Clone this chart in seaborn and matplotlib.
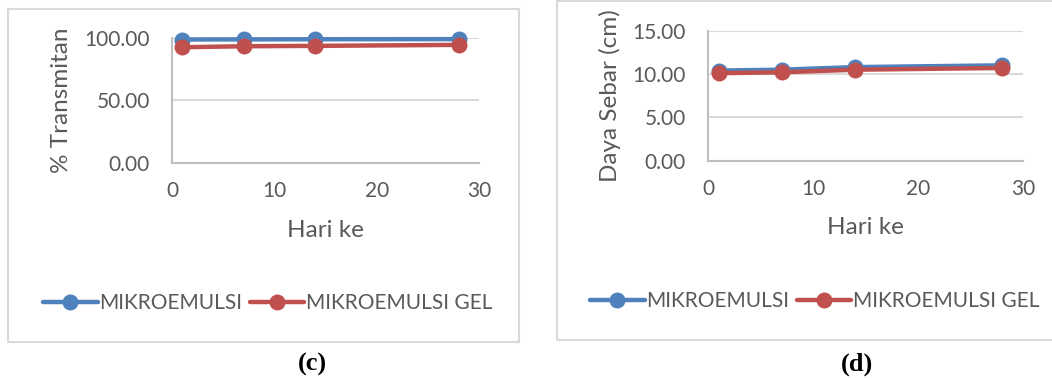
import matplotlib
matplotlib.use("Agg")
import matplotlib.pyplot as plt
import matplotlib.patches as mpatches
from matplotlib.lines import Line2D
from matplotlib.ticker import FormatStrFormatter
import pandas as pd
import seaborn as sns

# Observation days
hari = [1, 7, 14, 28]

# (c) % transmittance
transmitan_mikroemulsi = [98.8, 98.9, 99.0, 99.1]
transmitan_gel = [92.6, 93.4, 93.7, 94.5]

# (d) spreadability (cm)
sebar_mikroemulsi = [10.4, 10.5, 10.8, 11.0]
sebar_gel = [10.1, 10.2, 10.5, 10.7]

series_names = ["MIKROEMULSI", "MIKROEMULSI GEL"]
panel_labels = ["(c)", "(d)"]

BLUE = "#4F81BD"
RED = "#C0504D"
TEXT = "#595959"
GRID = "#D9D9D9"
AXIS = "#BFBFBF"

sns.set_theme(style="white")
plt.rcParams["font.family"] = ["Lato", "DejaVu Sans"]

W, H = 1052, 378
fig = plt.figure(figsize=(W / 100, H / 100), dpi=100)

MS = 11.5
LW = 3.2


def long_frame(a, b):
    return pd.DataFrame({
        "Hari": hari * 2,
        "Nilai": a + b,
        "Sampel": [series_names[0]] * len(hari) + [series_names[1]] * len(hari),
    })


def fx(px):
    return px / W


def fy(py):
    return 1 - py / H


def draw_panel(rect, data, ylabel, yticks, box, legend_xy, caption_xy, caption,
               label_x_px, xlabel_top_px):
    ax = fig.add_axes(rect)
    sns.lineplot(data=data, x="Hari", y="Nilai", hue="Sampel",
                 palette=[BLUE, RED], marker="o", markersize=MS,
                 markeredgewidth=0, linewidth=LW, legend=False, ax=ax)
    for ln in ax.lines:
        ln.set_clip_on(False)
    ax.set_xlim(0, 30)
    ax.set_xticks([0, 10, 20, 30])
    ax.set_ylim(yticks[0], yticks[-1])
    ax.set_yticks(yticks)
    ax.yaxis.set_major_formatter(FormatStrFormatter("%.2f"))
    ax.grid(axis="y", color=GRID, linewidth=1.5)
    ax.set_axisbelow(True)
    for s in ["top", "right"]:
        ax.spines[s].set_visible(False)
    for s in ["left", "bottom"]:
        ax.spines[s].set_color(AXIS)
        ax.spines[s].set_linewidth(1.5)
    ax.tick_params(axis="both", length=0, labelsize=15, colors=TEXT)
    ax.tick_params(axis="y", pad=16)
    ax.tick_params(axis="x", pad=13)
    ax.set_xlabel("Hari ke", fontsize=17.5, color=TEXT)
    ax.set_ylabel(ylabel, fontsize=17.5, color=TEXT)
    x0 = rect[0] * W
    wpx = rect[2] * W
    ybot = (1 - rect[1]) * H
    hpx = rect[3] * H
    ax.xaxis.set_label_coords(0.5, -(xlabel_top_px - ybot) / hpx)
    ax.yaxis.set_label_coords((label_x_px - x0) / wpx, 0.5)

    handles = [
        Line2D([], [], color=BLUE, marker="o", markersize=MS, markeredgewidth=0, linewidth=LW),
        Line2D([], [], color=RED, marker="o", markersize=MS, markeredgewidth=0, linewidth=LW),
    ]
    leg = fig.legend(handles, series_names, loc="center", bbox_to_anchor=legend_xy,
                     ncol=2, frameon=False, fontsize=15, handlelength=2.6,
                     handletextpad=0.1, columnspacing=0.35, borderpad=0)
    for t in leg.get_texts():
        t.set_color(TEXT)

    bx0, by0, bx1, by1 = box
    fig.patches.append(mpatches.Rectangle((fx(bx0), fy(by1)), fx(bx1 - bx0), (by1 - by0) / H,
                                          transform=fig.transFigure, fill=False,
                                          edgecolor=GRID, linewidth=1.5))
    fig.text(fx(caption_xy[0]), fy(caption_xy[1]), caption, ha="center", va="center",
             fontsize=19, fontweight="bold", family="Liberation Serif", color="black")
    return ax


draw_panel([fx(172), fy(163), fx(479 - 172), (163 - 38) / H],
           long_frame(transmitan_mikroemulsi, transmitan_gel),
           "% Transmitan", [0, 50, 100],
           (8, 9, 519, 342), (fx(268), fy(303)), (312, 364), panel_labels[0],
           label_x_px=72, xlabel_top_px=220)

draw_panel([fx(708), fy(160.7), fx(1023 - 708), (160.7 - 30.7) / H],
           long_frame(sebar_mikroemulsi, sebar_gel),
           "Daya Sebar (cm)", [0, 5, 10, 15],
           (557, 1, 1060, 340), (fx(815), fy(301)), (857, 364), panel_labels[1],
           label_x_px=621, xlabel_top_px=217)

fig.savefig("out.png", dpi=100, facecolor="white")
